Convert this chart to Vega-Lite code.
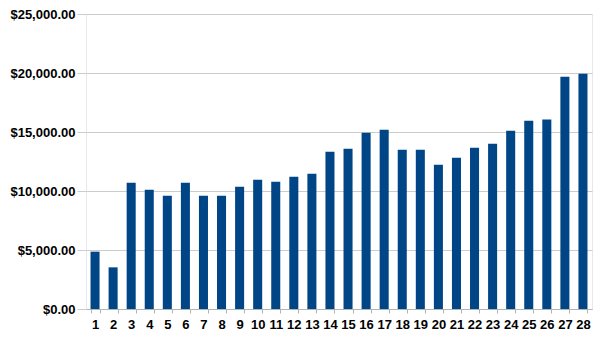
{
  "$schema": "https://vega.github.io/schema/vega-lite/v6.json",
  "width": 506,
  "height": 295,
  "autosize": {"type": "none"},
  "padding": {"left": 86, "top": 14, "right": 12, "bottom": 31},
  "background": "white",
  "config": {
    "view": {"stroke": "#e8e8e8", "strokeWidth": 1},
    "font": "Liberation Sans"
  },
  "data": {
    "values": [
      {"n": 1, "v": 4860}, {"n": 2, "v": 3530}, {"n": 3, "v": 10700}, {"n": 4, "v": 10110},
      {"n": 5, "v": 9600}, {"n": 6, "v": 10700}, {"n": 7, "v": 9600}, {"n": 8, "v": 9600},
      {"n": 9, "v": 10370}, {"n": 10, "v": 10960}, {"n": 11, "v": 10790}, {"n": 12, "v": 11210},
      {"n": 13, "v": 11470}, {"n": 14, "v": 13330}, {"n": 15, "v": 13590}, {"n": 16, "v": 14940},
      {"n": 17, "v": 15200}, {"n": 18, "v": 13500}, {"n": 19, "v": 13500}, {"n": 20, "v": 12230},
      {"n": 21, "v": 12820}, {"n": 22, "v": 13670}, {"n": 23, "v": 14010}, {"n": 24, "v": 15110},
      {"n": 25, "v": 15960}, {"n": 26, "v": 16050}, {"n": 27, "v": 19690}, {"n": 28, "v": 19940}
    ]
  },
  "mark": {"type": "bar", "color": "#004586"},
  "encoding": {
    "x": {
      "field": "n", "type": "ordinal",
      "scale": {"paddingInner": 0.5, "paddingOuter": 0.25},
      "axis": {
        "title": null, "labelAngle": 0, "tickBand": "extent",
        "domainColor": "#b3b3b3", "tickColor": "#b3b3b3", "tickSize": 4,
        "labelFont": "Liberation Sans", "labelFontSize": 13, "labelFontWeight": "bold",
        "labelColor": "#000000", "labelPadding": 5, "grid": false
      }
    },
    "y": {
      "field": "v", "type": "quantitative",
      "scale": {"domain": [0, 25000]},
      "axis": {
        "title": null, "values": [0, 5000, 10000, 15000, 20000, 25000],
        "format": "$,.2f", "domain": false,
        "gridColor": "#cccccc", "tickColor": "#cccccc", "tickSize": 9,
        "labelFont": "Liberation Sans", "labelFontSize": 13, "labelFontWeight": "bold",
        "labelColor": "#000000", "labelPadding": 2
      }
    }
  }
}
